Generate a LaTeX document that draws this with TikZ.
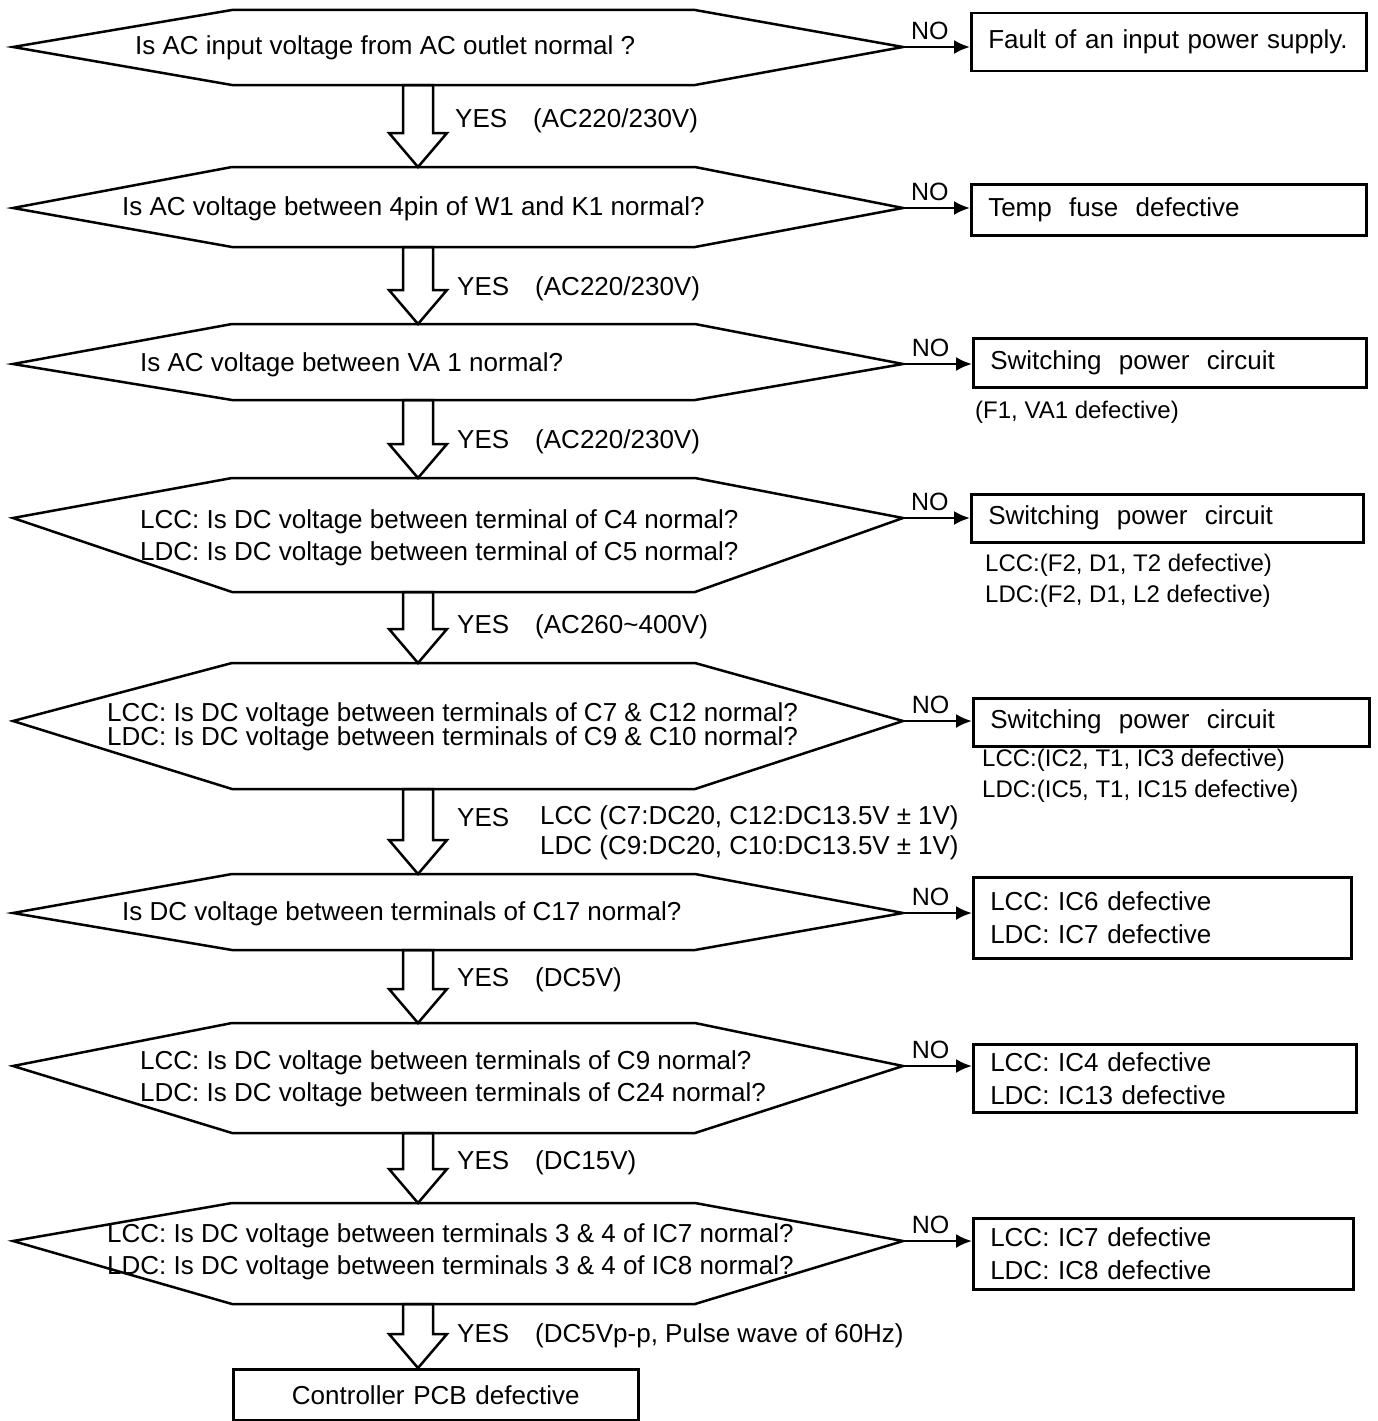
\documentclass[tikz,border=0pt]{standalone}
\usepackage{fontspec}
\setmainfont{Liberation Sans}
\usetikzlibrary{arrows.meta, calc, positioning}

\newcommand{\decisionshape}[4]{%
  \draw [shape_line] (13,#3) -- (232,#2) -- (695,#2) -- (903,#3) -- (695,#4) -- (232,#4) -- cycle;
  \coordinate (#1-top) at (418,#2);
  \coordinate (#1-bot) at (418,#4);
  \coordinate (#1-tip) at (903,#3);}

\newcommand{\yesarrow}[2]{%
  \draw [shape_line] ($(#1)+(-15,0)$) -- ($(#2)+(-15,-34)$) -- ($(#2)+(-29,-34)$) -- (#2)
    -- ($(#2)+(29,-34)$) -- ($(#2)+(15,-34)$) -- ($(#1)+(15,0)$) -- cycle;}

\begin{document}
\begin{tikzpicture}[
    x=1pt, y=-1pt,
    shape_line/.style={line width=2.5pt, line join=miter},
    q_text/.style={anchor=west, inner sep=0pt, align=left, font=\fontsize{26}{32}\selectfont},
    fault_box/.style={rectangle, draw, line width=2.5pt, anchor=north west, inner xsep=17pt, inner ysep=0pt, align=left, font=\fontsize{26}{33}\selectfont},
    note_text/.style={anchor=west, inner sep=0pt, align=left, font=\fontsize{24}{31}\selectfont},
    yes_text/.style={anchor=west, inner sep=0pt, font=\fontsize{26}{31}\selectfont},
    no_arrow/.style={-{Latex[length=16pt, width=14pt]}, line width=2.5pt},
    no_label/.style={above, pos=0.4, inner sep=6pt, font=\fontsize{25}{28}\selectfont}
]
\useasboundingbox (0,0) rectangle (1378,1421);

\decisionshape{q1}{10}{47}{85}
\decisionshape{q2}{167}{208}{247}
\decisionshape{q3}{324}{364}{400}
\decisionshape{q4}{478}{518}{592}
\decisionshape{q5}{663}{721}{789}
\decisionshape{q6}{874}{913}{950}
\decisionshape{q7}{1023}{1066}{1133}
\decisionshape{q8}{1203}{1241}{1304}

\node (q1_text) [q_text] at (135,48) {Is AC input voltage from AC outlet normal ?};
\node (q2_text) [q_text] at (122,209) {Is AC voltage between 4pin of W1 and K1 normal?};
\node (q3_text) [q_text] at (140,365) {Is AC voltage between VA 1 normal?};
\node (q4_text) [q_text] at (140,538) {LCC: Is DC voltage between terminal of C4 normal?\\LDC: Is DC voltage between terminal of C5 normal?};
\node (q5_text) [q_text] at (107,727) {LCC: Is DC voltage between terminals of C7 \& C12 normal?\\[-8pt]LDC: Is DC voltage between terminals of C9 \& C10 normal?};
\node (q6_text) [q_text] at (122,914) {Is DC voltage between terminals of C17 normal?};
\node (q7_text) [q_text] at (140,1079) {LCC: Is DC voltage between terminals of C9 normal?\\LDC: Is DC voltage between terminals of C24 normal?};
\node (q8_text) [q_text] at (107,1252) {LCC: Is DC voltage between terminals 3 \& 4 of IC7 normal?\\LDC: Is DC voltage between terminals 3 \& 4 of IC8 normal?};

\node (fault1) [fault_box, text width=361pt, minimum height=58pt] at (970,12) {Fault of an input power supply.};
\node (fault2) [fault_box, text width=361pt, minimum height=51pt] at (970,183) {Temp\ \ fuse\ \ defective};
\node (fault3) [fault_box, text width=359pt, minimum height=49pt] at (972,337) {Switching\ \ power\ \ circuit};
\node (fault4) [fault_box, text width=358pt, minimum height=48pt] at (970,493) {Switching\ \ power\ \ circuit};
\node (fault5) [fault_box, text width=362pt, minimum height=48pt] at (972,697) {Switching\ \ power\ \ circuit};
\node (fault6) [fault_box, text width=344pt, minimum height=81pt] at (972,876) {LCC: IC6 defective\\LDC: IC7 defective};
\node (fault7) [fault_box, text width=349pt, minimum height=68pt] at (972,1043) {LCC: IC4 defective\\LDC: IC13 defective};
\node (fault8) [fault_box, text width=346pt, minimum height=71pt] at (972,1217) {LCC: IC7 defective\\LDC: IC8 defective};
\node (pcb) [fault_box, text width=371pt, align=center, minimum height=51pt] at (232,1368) {Controller PCB defective};

\node (note3) [note_text] at (975,412) {(F1, VA1 defective)};
\node (note4) [note_text] at (985,581) {LCC:(F2, D1, T2 defective)\\LDC:(F2, D1, L2 defective)};
\node (note5) [note_text] at (982,776) {LCC:(IC2, T1, IC3 defective)\\LDC:(IC5, T1, IC15 defective)};

\yesarrow{q1-bot}{q2-top}
\yesarrow{q2-bot}{q3-top}
\yesarrow{q3-bot}{q4-top}
\yesarrow{q4-bot}{q5-top}
\yesarrow{q5-bot}{q6-top}
\yesarrow{q6-bot}{q7-top}
\yesarrow{q7-bot}{q8-top}
\yesarrow{q8-bot}{q8-bot |- pcb.north}

\node (yes1) [yes_text] at (455,121) {YES\quad(AC220/230V)};
\node (yes2) [yes_text] at (457,289) {YES\quad(AC220/230V)};
\node (yes3) [yes_text] at (457,442) {YES\quad(AC220/230V)};
\node (yes4) [yes_text] at (457,627) {YES\quad(AC260\textasciitilde400V)};
\node (yes5) [yes_text] at (457,818) {YES};
\node (lcc5) [yes_text] at (540,818) {LCC (C7:DC20, C12:DC13.5V\hspace{7pt}±\hspace{7pt}1V)};
\node (ldc5) [yes_text] at (540,848) {LDC (C9:DC20, C10:DC13.5V\hspace{7pt}±\hspace{7pt}1V)};
\node (yes6) [yes_text] at (457,980) {YES\quad(DC5V)};
\node (yes7) [yes_text] at (457,1163) {YES\quad(DC15V)};
\node (yes8) [yes_text] at (457,1336) {YES\quad(DC5Vp-p, Pulse wave of 60Hz)};

\draw [no_arrow] (q1-tip) -- node [no_label] {NO} (q1-tip -| fault1.west);
\draw [no_arrow] (q2-tip) -- node [no_label] {NO} (q2-tip -| fault2.west);
\draw [no_arrow] (q3-tip) -- node [no_label] {NO} (q3-tip -| fault3.west);
\draw [no_arrow] (q4-tip) -- node [no_label] {NO} (q4-tip -| fault4.west);
\draw [no_arrow] (q5-tip) -- node [no_label] {NO} (q5-tip -| fault5.west);
\draw [no_arrow] (q6-tip) -- node [no_label] {NO} (q6-tip -| fault6.west);
\draw [no_arrow] (q7-tip) -- node [no_label] {NO} (q7-tip -| fault7.west);
\draw [no_arrow] (q8-tip) -- node [no_label] {NO} (q8-tip -| fault8.west);
\end{tikzpicture}
\end{document}
